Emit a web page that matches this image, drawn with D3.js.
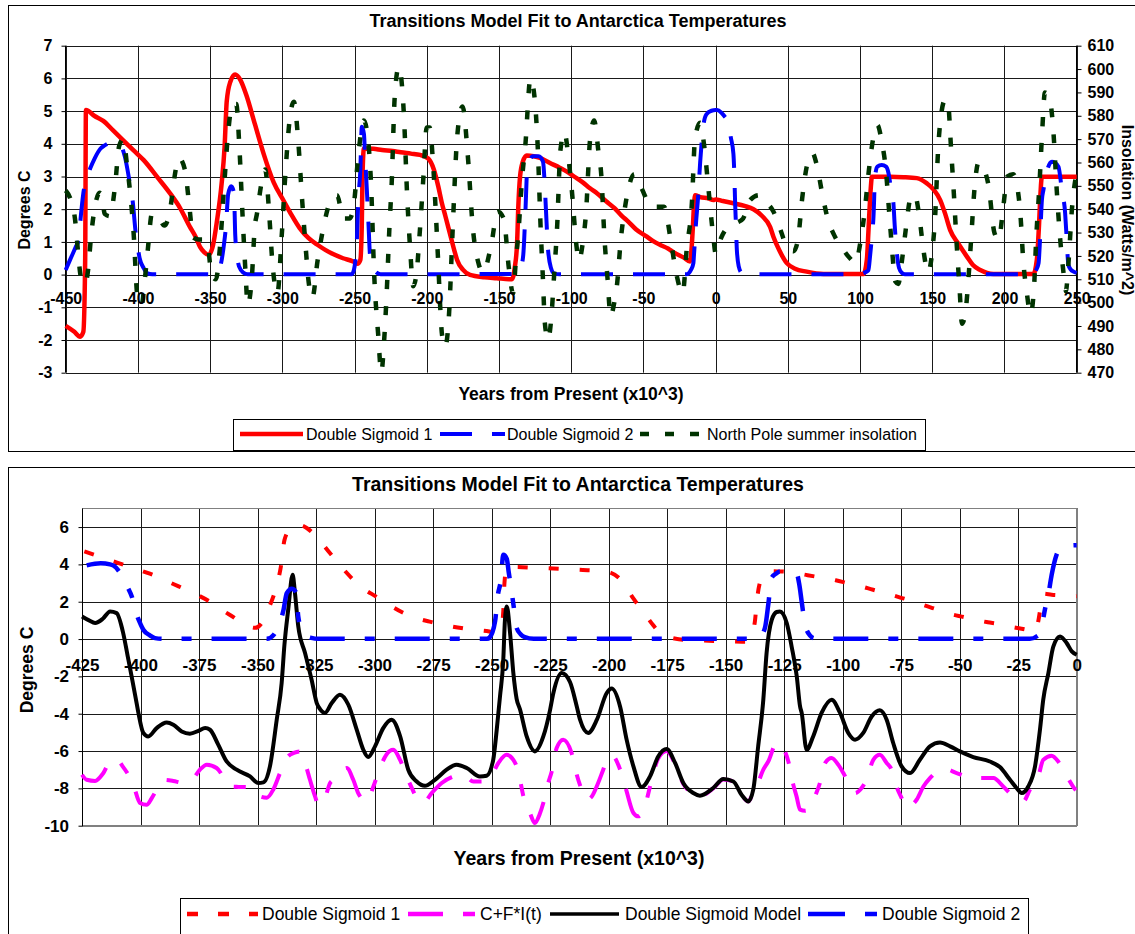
<!DOCTYPE html>
<html>
<head>
<meta charset="utf-8">
<script src="https://cdn.jsdelivr.net/npm/d3@7"></script>
<style>
  body { margin: 0; background: #fff; }
  svg { display: block; font-family: Arial, "Liberation Sans", sans-serif; }
</style>
</head>
<body>
<div id="chart"></div>
<script>
// ---- data (x = thousand years from present) ----
const ds1 = [[-450,-1.57],[-444,-1.75],[-440,-1.9],[-437.8,-1.75],[-436.5,0.5],[-436,5.03],[-430,4.85],[-424,4.7],[-417,4.4],[-410,4.1],[-403,3.8],[-396,3.5],[-386,2.95],[-378,2.5],[-371,2.05],[-364,1.46],[-360,1.15],[-357,0.85],[-354,0.68],[-351,0.6],[-348,0.9],[-345.4,1.6],[-342,2.8],[-340,3.9],[-338.5,5.3],[-336,5.9],[-332.7,6.12],[-329,5.95],[-325,5.5],[-319,4.6],[-313,3.7],[-306,2.82],[-299,2.25],[-294,1.85],[-288,1.42],[-282,1.12],[-276,0.92],[-270,0.75],[-264.5,0.62],[-258,0.5],[-251,0.4],[-248,0.33],[-246,0.45],[-245,1.5],[-244.5,3.0],[-243.5,3.86],[-237,3.85],[-231,3.81],[-223.6,3.78],[-218,3.74],[-211,3.7],[-204.6,3.66],[-199,3.55],[-195,3.2],[-192,2.69],[-189.6,2.2],[-187,1.77],[-184,1.26],[-181,0.75],[-179,0.45],[-175,0.15],[-170,-0.01],[-160,-0.08],[-151.5,-0.11],[-143,-0.14],[-141,-0.14],[-139,0.24],[-137.5,0.94],[-136.6,2.1],[-135.4,3.0],[-133.5,3.45],[-130.8,3.64],[-126,3.62],[-121.6,3.57],[-115,3.42],[-108,3.27],[-103,3.15],[-98,3.0],[-92,2.82],[-87,2.64],[-82,2.48],[-76,2.25],[-70,2.03],[-65.5,1.82],[-60,1.6],[-55,1.38],[-47.6,1.16],[-43.5,1.03],[-38,0.9],[-33,0.8],[-29,0.68],[-22,0.52],[-17.7,0.4],[-16.5,0.9],[-15.7,1.5],[-15,2.1],[-14.2,2.43],[-10.7,2.37],[-5,2.33],[-1.5,2.28],[0,2.3],[5,2.25],[12.3,2.18],[20,2.1],[26.2,2.0],[32,1.8],[37.7,1.46],[40,1.16],[44,0.75],[49.3,0.35],[55,0.18],[63,0.09],[74.7,0.02],[90,0.02],[102.4,0.02],[104.7,0.45],[106,1.5],[107.5,2.7],[108.2,2.99],[120.8,2.99],[130,2.98],[139.3,2.95],[146.3,2.79],[151,2.6],[155.5,2.28],[159,1.85],[162.4,1.36],[168,0.95],[174,0.55],[178,0.3],[183.2,0.14],[192.4,0.02],[210,0.02],[220,0.02],[222.4,0.45],[224,1.6],[224.7,2.28],[225.9,2.99],[240,2.99],[250,2.99]];

const ds2 = [[-450,0.14],[-447,0.45],[-443,0.85],[-441,1.06],[-439.5,1.8],[-437.8,2.49],[-435,3.0],[-433,3.25],[-430,3.55],[-426,3.85],[-423,3.95],[-417,4.06],[-413,4.0],[-411.5,3.93],[-409,3.6],[-406,2.9],[-403.5,2.2],[-401.6,1.3],[-400,0.8],[-398.8,0.5],[-396,0.2],[-393.8,0.05],[-390,0.01],[-346,0.01],[-343,0.24],[-340.5,0.9],[-339,1.5],[-337.5,2.46],[-335.4,2.7],[-333.5,2.5],[-332.6,1.2],[-331.1,0.5],[-330,0.25],[-327,0.06],[-324,0.01],[-252,0.01],[-250.8,0.09],[-248.5,0.96],[-247.4,2.28],[-246,3.2],[-245,4.52],[-243.5,4.3],[-242.7,3.6],[-241.5,2.6],[-240.4,1.6],[-239.3,0.6],[-237.5,0.25],[-235.8,0.1],[-232,0.01],[-137,0.02],[-135.3,0.14],[-133.2,0.6],[-131.7,1.93],[-130.4,3.27],[-128.5,3.5],[-126.8,3.62],[-122.5,3.62],[-119.5,3.45],[-118.5,2.9],[-117.5,2.0],[-116.1,0.8],[-114,0.2],[-112,0.04],[-108,0.01],[-20,0.01],[-17,0.15],[-15.4,0.35],[-15,0.59],[-13.6,1.57],[-12.1,2.4],[-10.7,3.44],[-8.6,4.52],[-6.4,4.9],[-2.9,5.01],[0,5.03],[1,5.03],[4,4.95],[6,4.85],[8.9,4.63],[10.5,4.2],[12.3,3.7],[13,3.0],[13.5,2.18],[14.1,1.5],[14.7,0.75],[16,0.25],[18,0.05],[20,0.01],[88,0.01],[100,0.02],[104,0.08],[105.8,0.14],[107,0.6],[108.2,1.16],[109.3,1.77],[110.4,3.0],[112,3.3],[115,3.35],[118,3.3],[119.7,3.1],[121.5,2.6],[123.1,2.18],[124,1.5],[125.5,0.65],[127,0.2],[129,0.05],[131,0.01],[220,0.01],[222,0.15],[223.6,0.35],[224.7,1.16],[225.9,2.28],[227,2.6],[228.2,2.89],[230,3.25],[232.8,3.45],[235,3.42],[237.4,3.3],[239.7,2.59],[242,1.87],[242.8,1.3],[243.2,0.96],[244.3,0.29],[246,0.15],[247.8,0.09],[250,0.05]];

// North Pole summer insolation (W/m^2), right axis of the upper chart
const insolation = [[-450,548],[-446,543],[-443.6,536],[-441.5,522],[-439.5,511],[-436.6,508],[-434.5,514],[-432.5,528],[-429.5,542],[-426.5,547],[-425,546],[-423,538],[-419.4,537],[-416,549],[-413,567],[-410.2,570],[-407.4,558],[-405.2,546],[-403.1,531],[-400.2,502],[-397.4,499],[-395.2,510],[-393.1,523],[-390.3,538],[-386,537],[-381.7,533],[-377.4,541],[-374.6,554],[-371.7,562],[-367.5,557],[-364.5,542],[-361.8,528],[-358,527],[-354.6,527],[-351.8,525],[-349,512],[-346,510],[-343.3,523],[-340.4,549],[-337.5,573],[-334.5,585],[-331.9,585],[-329.7,566],[-327.6,538],[-325.5,513],[-324,499],[-321.2,510],[-319,533],[-317.6,538],[-314.5,551],[-311.9,557],[-309.1,538],[-307,518],[-303.4,504],[-300.5,528],[-297.7,557],[-295,578],[-292,586],[-289.1,570],[-286.3,544],[-284,525],[-282,510],[-279.2,502],[-275.6,518],[-271.3,533],[-267,543],[-262.1,546],[-257.8,536],[-253.5,536],[-250.7,541],[-247.1,565],[-243.6,578],[-240.7,570],[-238.6,551],[-236.4,512],[-233.6,486],[-231.5,470],[-229.5,484],[-227.9,502],[-225.8,533],[-224.3,551],[-222.2,588],[-219.4,601],[-215.8,580],[-213.6,546],[-211.5,523],[-209.4,507],[-207,513],[-205.1,528],[-202.3,554],[-200.1,575],[-198,575],[-195.9,562],[-193.7,538],[-192.3,520],[-189.4,486],[-187.3,481],[-184.5,496],[-182.3,528],[-178.8,572],[-175.2,584],[-171.6,563],[-168.1,532],[-163.8,516],[-161,513],[-155.3,525],[-151,539],[-146.7,536],[-143.2,515],[-140.3,504],[-138.2,519],[-136.8,528],[-133.9,554],[-131.8,567],[-128.2,596],[-125.4,588],[-123.2,567],[-121.1,531],[-119.7,512],[-118.2,491],[-116,484],[-114,492],[-111.8,512],[-109.7,533],[-107.5,565],[-104.7,573],[-101.9,562],[-99.7,549],[-96.1,523],[-94.7,518],[-91.9,526],[-89.8,538],[-86.9,570],[-84.1,578],[-81.2,565],[-79.1,554],[-77,528],[-74.8,510],[-72.7,494],[-70.5,499],[-68.4,507],[-65.5,528],[-62.7,541],[-59.5,551],[-56.3,555],[-51.3,549],[-44.2,541],[-40,541],[-35.6,541],[-31.4,528],[-27.1,512],[-22.8,504],[-20,523],[-16.4,543],[-14.3,570],[-10.7,577],[-7.9,567],[-5,549],[-1.4,527],[0,521],[4,528],[8,532],[14,534],[19,536],[24,544],[30,546],[35,543],[40,539],[45,531],[50,523],[54,522],[57,527],[60,545],[63,558],[67,564],[70,559],[74,546],[78,535],[82,529],[88,523],[93,519],[97,517],[100,525],[103,538],[106,556],[109,570],[112,576],[115,569],[118,556],[120,540],[122,524],[124.5,509],[126.5,508],[129,518],[132,533],[135,545],[138,546],[141,537],[144,522],[147,513],[150,522],[152,537],[154,565],[156.5,582],[159,587],[161,585],[163,566],[165,546],[167,524],[169,505],[170.5,491],[173,496],[175,510],[177,528],[179,547],[182,560],[185,558],[189,550],[193,530],[196,527],[199,540],[202,554],[206,555],[209,549],[211,538],[213,518],[215.5,504],[218,495],[220.5,507],[222,528],[224,548],[226,572],[228,590],[231,588],[234,572],[236,550],[238.6,527],[241,512],[242.5,505],[244.3,517],[246.7,540],[250,556]];

// C+F*I(t), lower chart
const cfi = [[-425,-7.27],[-423,-7.54],[-419.4,-7.6],[-416,-7.2],[-413,-6.56],[-410.2,-6.47],[-407.4,-6.86],[-405.2,-7.27],[-403.1,-7.8],[-400.2,-8.78],[-397.4,-8.88],[-395.2,-8.52],[-393.1,-8.07],[-390.3,-7.54],[-386,-7.6],[-381.7,-7.71],[-377.4,-7.45],[-374.6,-7.0],[-371.7,-6.73],[-367.5,-6.91],[-364.5,-7.4],[-361.8,-7.9],[-358,-7.92],[-354.6,-7.93],[-351.8,-7.98],[-349,-8.43],[-346,-8.5],[-343.3,-8.07],[-340.4,-7.18],[-337.5,-6.37],[-334.5,-6.1],[-331.9,-6.02],[-329.7,-6.64],[-327.6,-7.54],[-325.5,-8.4],[-324,-8.88],[-321.2,-8.52],[-319,-7.71],[-317.6,-7.54],[-314.5,-7.1],[-311.9,-6.91],[-309.1,-7.54],[-307,-8.25],[-303.4,-8.7],[-300.5,-7.9],[-297.7,-6.91],[-295,-6.2],[-292,-5.93],[-289.1,-6.47],[-286.3,-7.36],[-284,-8.0],[-282,-8.52],[-279.2,-8.78],[-275.6,-8.25],[-271.3,-7.71],[-267,-7.4],[-262.1,-7.27],[-257.8,-7.63],[-253.5,-7.63],[-250.7,-7.45],[-247.1,-6.64],[-243.6,-6.2],[-240.7,-6.47],[-238.6,-7.09],[-236.4,-8.43],[-233.6,-9.32],[-231.5,-9.86],[-229.5,-9.4],[-227.9,-8.78],[-225.8,-7.71],[-224.3,-7.09],[-222.2,-5.84],[-219.4,-5.39],[-215.8,-6.11],[-213.6,-7.27],[-211.5,-8.07],[-209.4,-8.61],[-207,-8.4],[-205.1,-7.9],[-202.3,-7.0],[-200.1,-6.29],[-198,-6.3],[-195.9,-6.73],[-193.7,-7.54],[-192.3,-8.16],[-189.4,-9.32],[-187.3,-9.5],[-184.5,-8.97],[-182.3,-7.9],[-178.8,-6.4],[-175.2,-6.0],[-171.6,-6.7],[-168.1,-7.75],[-163.8,-8.3],[-161,-8.42],[-155.3,-8.0],[-151,-7.52],[-146.7,-7.63],[-143.2,-8.34],[-140.3,-8.7],[-138.2,-8.2],[-136.8,-7.9],[-133.9,-7.0],[-131.8,-6.56],[-128.2,-5.57],[-125.4,-5.84],[-123.2,-6.56],[-121.1,-7.8],[-119.7,-8.43],[-118.2,-9.14],[-116,-9.2],[-114,-9.05],[-111.8,-8.43],[-109.7,-7.71],[-107.5,-6.64],[-104.7,-6.37],[-101.9,-6.73],[-99.7,-7.18],[-96.1,-8.07],[-94.7,-8.25],[-91.9,-7.98],[-89.8,-7.54],[-86.9,-6.47],[-84.1,-6.2],[-81.2,-6.64],[-79.1,-7.0],[-77,-7.9],[-74.8,-8.52],[-72.7,-9.05],[-70.5,-8.9],[-68.4,-8.61],[-65.5,-7.9],[-62.7,-7.45],[-59.5,-7.1],[-56.3,-6.96],[-51.3,-7.18],[-44.2,-7.45],[-40,-7.45],[-35.6,-7.45],[-31.4,-7.9],[-27.1,-8.43],[-22.8,-8.7],[-20,-8.07],[-16.4,-7.36],[-14.3,-6.47],[-10.7,-6.25],[-7.9,-6.56],[-5,-7.18],[-1.4,-7.93],[0,-8.16]];

// Double Sigmoid Model, lower chart
const model = [[-425,1.21],[-422,1.0],[-419.4,0.86],[-416,1.1],[-413,1.48],[-410.2,1.39],[-407.4,0.32],[-405.5,-0.9],[-403.8,-2.0],[-402,-3.2],[-400.9,-3.96],[-398.8,-5.03],[-396.7,-5.22],[-393.1,-4.77],[-388.8,-4.47],[-386,-4.59],[-382.4,-4.95],[-378.9,-5.07],[-375,-4.9],[-372.4,-4.77],[-370.3,-4.86],[-366.8,-5.66],[-363.2,-6.56],[-358.9,-7.0],[-353.2,-7.36],[-349.7,-7.71],[-347.5,-7.68],[-344.7,-6.82],[-341.8,-4.32],[-339.7,-2.36],[-338.5,-0.3],[-336.9,1.57],[-335,3.44],[-334,2.46],[-332.6,0.68],[-329.7,-0.75],[-326.9,-2.18],[-324.7,-3.43],[-323.3,-3.75],[-321.2,-3.96],[-318.3,-3.43],[-314.8,-2.98],[-311.2,-3.52],[-307.6,-4.86],[-304.8,-5.93],[-302.7,-6.32],[-299.8,-5.75],[-296.3,-4.77],[-292.7,-4.32],[-289.1,-5.2],[-285.6,-7.0],[-282,-7.63],[-278.5,-7.86],[-274.2,-7.54],[-269.2,-7.0],[-265,-6.73],[-260.6,-6.91],[-255,-7.36],[-252.1,-7.32],[-249.3,-6.47],[-247.8,-4.86],[-246.4,-3.07],[-245,-1.11],[-244.3,1.0],[-243.5,1.75],[-242.1,0.32],[-240.7,-1.82],[-239.3,-3.2],[-237.9,-3.75],[-235,-5.22],[-231.5,-6.02],[-227.9,-5.22],[-225,-3.79],[-223.6,-2.89],[-220,-1.82],[-216.5,-2.3],[-213.6,-3.61],[-212.2,-4.32],[-208.7,-5.03],[-205,-4.32],[-200.8,-2.89],[-198.7,-2.65],[-195.1,-3.61],[-192.3,-5.39],[-189.4,-6.82],[-185.9,-7.93],[-182.3,-7.36],[-178.8,-6.29],[-175.2,-5.89],[-171.6,-6.64],[-168.1,-7.71],[-163.8,-8.25],[-161,-8.39],[-155.3,-7.98],[-151,-7.5],[-146.7,-7.63],[-143.2,-8.34],[-140.3,-8.7],[-138.2,-8.07],[-136.1,-5.75],[-133.9,-3.25],[-132.5,-0.75],[-130.3,1.03],[-128.2,1.45],[-126.8,1.48],[-123.9,0.86],[-121.8,-0.4],[-119.6,-2.0],[-118.2,-3.61],[-117.5,-3.96],[-115.4,-5.93],[-112.6,-5.22],[-109,-3.96],[-104.7,-3.25],[-101.1,-3.96],[-97.6,-5.03],[-94.7,-5.39],[-91.2,-5.03],[-87.6,-4.15],[-84.1,-3.82],[-81.2,-4.32],[-78.4,-5.57],[-74.8,-6.82],[-71.2,-7.18],[-67,-6.47],[-62.7,-5.75],[-58.4,-5.54],[-54.1,-5.75],[-49.9,-6.02],[-44.2,-6.32],[-37.1,-6.56],[-32.8,-6.86],[-28.5,-7.54],[-25.7,-7.98],[-23.5,-8.25],[-20.7,-7.9],[-17.8,-6.82],[-15.7,-4.86],[-14.3,-3.25],[-12.1,-1.82],[-10,-0.4],[-7.1,0.14],[-4.3,-0.21],[-2.1,-0.66],[0,-0.84]];

// ticks
const topXTicks = d3.range(-450, 251, 50);
const topYTicks = d3.range(-3, 8, 1);
const topRTicks = d3.range(470, 611, 10);
const botXTicks = d3.range(-425, 1, 25);
const botYTicks = d3.range(-10, 7, 2);

const title = 'Transitions Model Fit to Antarctica Temperatures';
const xTitle = 'Years from Present (x10^3)';

// ---- drawing ----
const width = 1135, height = 934;
const svg = d3.select('#chart').append('svg')
  .attr('width', width).attr('height', height);

const colors = { red: '#ff0000', blue: '#0000ff', green: '#003300', magenta: '#ff00ff', black: '#000000' };
const plain = (d) => String(d); // keep the ASCII hyphen as in the original

// outer chart frames
svg.append('rect').attr('x', 8.5).attr('y', 5.5).attr('width', 1140).attr('height', 446)
  .attr('fill', '#fff').attr('stroke', '#000');
svg.append('rect').attr('x', 8.5).attr('y', 467.5).attr('width', 1140).attr('height', 480)
  .attr('fill', '#fff').attr('stroke', '#000');

function grid(g, x, y, xt, yt, stroke) {
  const [x0, x1] = x.range();
  const [y0, y1] = y.range();
  g.append('g').selectAll('line').data(xt).join('line')
    .attr('x1', (d) => Math.round(x(d)) + 0.5).attr('x2', (d) => Math.round(x(d)) + 0.5)
    .attr('y1', y1).attr('y2', y0)
    .attr('stroke', stroke).attr('stroke-width', 1);
  g.append('g').selectAll('line').data(yt).join('line')
    .attr('x1', x0).attr('x2', x1)
    .attr('y1', (d) => Math.round(y(d)) + 0.5).attr('y2', (d) => Math.round(y(d)) + 0.5)
    .attr('stroke', stroke).attr('stroke-width', 1);
}

function drawLine(g, data, x, y, color, w, dash) {
  const line = d3.line().x((d) => x(d[0])).y((d) => y(d[1])).curve(d3.curveMonotoneX);
  g.append('path').datum(data)
    .attr('d', line)
    .attr('fill', 'none')
    .attr('stroke', color)
    .attr('stroke-width', w)
    .attr('stroke-linejoin', 'round')
    .attr('stroke-dasharray', dash || null);
}

function styleAxis(g, size) {
  g.select('.domain').remove();
  g.selectAll('text').attr('font-size', size).attr('font-weight', 'bold')
    .attr('font-family', 'Arial, "Liberation Sans", sans-serif').attr('fill', '#000');
  g.selectAll('line').attr('stroke', '#000');
}

// ===== upper chart =====
const xT = d3.scaleLinear([-450, 250], [65.7, 1076.7]);
const yT = d3.scaleLinear([-3, 7], [372.7, 45.7]);
const yR = d3.scaleLinear([470, 610], [372.7, 45.7]);

const upper = svg.append('g');
grid(upper, xT, yT, topXTicks, topYTicks, '#1a1a1a');
upper.append('line').attr('x1', 65.5).attr('x2', 65.5).attr('y1', 45.7).attr('y2', 372.7).attr('stroke', '#000');
upper.append('line').attr('x1', 1076.5).attr('x2', 1076.5).attr('y1', 45.7).attr('y2', 372.7).attr('stroke', '#000');

upper.append('clipPath').attr('id', 'clipTop').append('rect')
  .attr('x', 60).attr('y', 40).attr('width', 1022).attr('height', 340);
const upperPlot = upper.append('g').attr('clip-path', 'url(#clipTop)');
drawLine(upperPlot, ds1, xT, yT, colors.red, 4.5);
drawLine(upperPlot, ds2, xT, yT, colors.blue, 4, '32,20');
drawLine(upperPlot, insolation, xT, yR, colors.green, 4.5, '9,17');

upper.append('g').attr('transform', 'translate(65.5,0)')
  .call(d3.axisLeft(yT).tickValues(topYTicks).tickFormat(plain).tickSize(4).tickPadding(9))
  .call((g) => styleAxis(g, 16));
upper.append('g').attr('transform', 'translate(1076.5,0)')
  .call(d3.axisRight(yR).tickValues(topRTicks).tickFormat(plain).tickSize(5).tickPadding(6))
  .call((g) => styleAxis(g, 16));
upper.append('g').attr('transform', `translate(0,${yT(0)})`)
  .call(d3.axisBottom(xT).tickValues(topXTicks).tickFormat(plain).tickSize(0).tickPadding(18))
  .call((g) => styleAxis(g, 16));

upper.append('text').attr('x', 578).attr('y', 27).attr('text-anchor', 'middle')
  .attr('font-size', 18).attr('font-weight', 'bold').text(title);
upper.append('text').attr('x', 571).attr('y', 400).attr('text-anchor', 'middle')
  .attr('font-size', 17.5).attr('font-weight', 'bold').text(xTitle);
upper.append('text').attr('transform', 'translate(30,210) rotate(-90)').attr('text-anchor', 'middle')
  .attr('font-size', 16).attr('font-weight', 'bold').text('Degrees C');
upper.append('text').attr('transform', 'translate(1122,210) rotate(90)').attr('text-anchor', 'middle')
  .attr('font-size', 16).attr('font-weight', 'bold').text('Insolation (Watts/m^2)');

// upper legend
const legTop = [
  { name: 'Double Sigmoid 1', color: colors.red, w: 4.5, dash: null, x0: 240, x1: 303, tx: 306 },
  { name: 'Double Sigmoid 2', color: colors.blue, w: 4, dash: '32,20', x0: 440, x1: 505, tx: 507 },
  { name: 'North Pole summer insolation', color: colors.green, w: 4.5, dash: '9,16', x0: 640, x1: 702, tx: 707 },
];
upper.append('rect').attr('x', 233.5).attr('y', 419.5).attr('width', 692).attr('height', 31)
  .attr('fill', '#fff').attr('stroke', '#000');
legTop.forEach((d) => {
  upper.append('line').attr('x1', d.x0).attr('x2', d.x1).attr('y1', 434).attr('y2', 434)
    .attr('stroke', d.color).attr('stroke-width', d.w).attr('stroke-dasharray', d.dash);
  upper.append('text').attr('x', d.tx).attr('y', 440).attr('font-size', 16).text(d.name);
});

// ===== lower chart =====
const xB = d3.scaleLinear([-425, 0], [82, 1076.7]);
const yB = d3.scaleLinear([-10, 7], [825.7, 508.4]);

const lower = svg.append('g');
grid(lower, xB, yB, botXTicks, botYTicks, '#1a1a1a');
lower.append('line').attr('x1', 82).attr('x2', 1077).attr('y1', 508.5).attr('y2', 508.5).attr('stroke', '#808080');
lower.append('line').attr('x1', 1077).attr('x2', 1077).attr('y1', 508.5).attr('y2', 826).attr('stroke', '#808080').attr('stroke-width', 2);
lower.append('line').attr('x1', 82).attr('x2', 1077).attr('y1', 826).attr('y2', 826).attr('stroke', '#808080').attr('stroke-width', 2);
lower.append('line').attr('x1', 82.5).attr('x2', 82.5).attr('y1', 508.5).attr('y2', 826).attr('stroke', '#000');

lower.append('clipPath').attr('id', 'clipBot').append('rect')
  .attr('x', 78).attr('y', 500).attr('width', 1003).attr('height', 330);
const lowerPlot = lower.append('g').attr('clip-path', 'url(#clipBot)');
const inRange = (arr) => arr.filter((d) => d[0] >= -425 && d[0] <= 0);
drawLine(lowerPlot, inRange(ds1), xB, yB, colors.red, 4, '10,21');
drawLine(lowerPlot, cfi, xB, yB, colors.magenta, 4, '33,20,12,20');
drawLine(lowerPlot, model, xB, yB, colors.black, 4);
drawLine(lowerPlot, inRange(ds2), xB, yB, colors.blue, 4.5, '35,20,10,20');

lower.append('g').attr('transform', 'translate(82.5,0)')
  .call(d3.axisLeft(yB).tickValues(botYTicks).tickFormat(plain).tickSize(4).tickPadding(9.5))
  .call((g) => styleAxis(g, 17));
lower.append('g').attr('transform', `translate(0,${yB(0)})`)
  .call(d3.axisBottom(xB).tickValues(botXTicks).tickFormat(plain).tickSize(0).tickPadding(20))
  .call((g) => styleAxis(g, 17));

lower.append('text').attr('x', 578).attr('y', 491).attr('text-anchor', 'middle')
  .attr('font-size', 19.5).attr('font-weight', 'bold').text(title);
lower.append('text').attr('x', 579).attr('y', 865).attr('text-anchor', 'middle')
  .attr('font-size', 19.5).attr('font-weight', 'bold').text(xTitle);
lower.append('text').attr('transform', 'translate(33,670) rotate(-90)').attr('text-anchor', 'middle')
  .attr('font-size', 17.5).attr('font-weight', 'bold').text('Degrees C');

const legBot = [
  { name: 'Double Sigmoid 1', color: colors.red, w: 4.5, dash: '11,20', x0: 187, x1: 258, tx: 262 },
  { name: 'C+F*I(t)', color: colors.magenta, w: 4.5, dash: '35,20,12,20', x0: 408, x1: 477, tx: 480 },
  { name: 'Double Sigmoid Model', color: colors.black, w: 3.5, dash: null, x0: 550, x1: 619, tx: 625 },
  { name: 'Double Sigmoid 2', color: colors.blue, w: 4.5, dash: '37,20,12,20', x0: 808, x1: 877, tx: 882 },
];
lower.append('rect').attr('x', 180.5).attr('y', 898.5).attr('width', 848).attr('height', 50)
  .attr('fill', '#fff').attr('stroke', '#000');
legBot.forEach((d) => {
  lower.append('line').attr('x1', d.x0).attr('x2', d.x1).attr('y1', 914).attr('y2', 914)
    .attr('stroke', d.color).attr('stroke-width', d.w).attr('stroke-dasharray', d.dash);
  lower.append('text').attr('x', d.tx).attr('y', 920).attr('font-size', 17.5).text(d.name);
});
</script>
</body>
</html>
